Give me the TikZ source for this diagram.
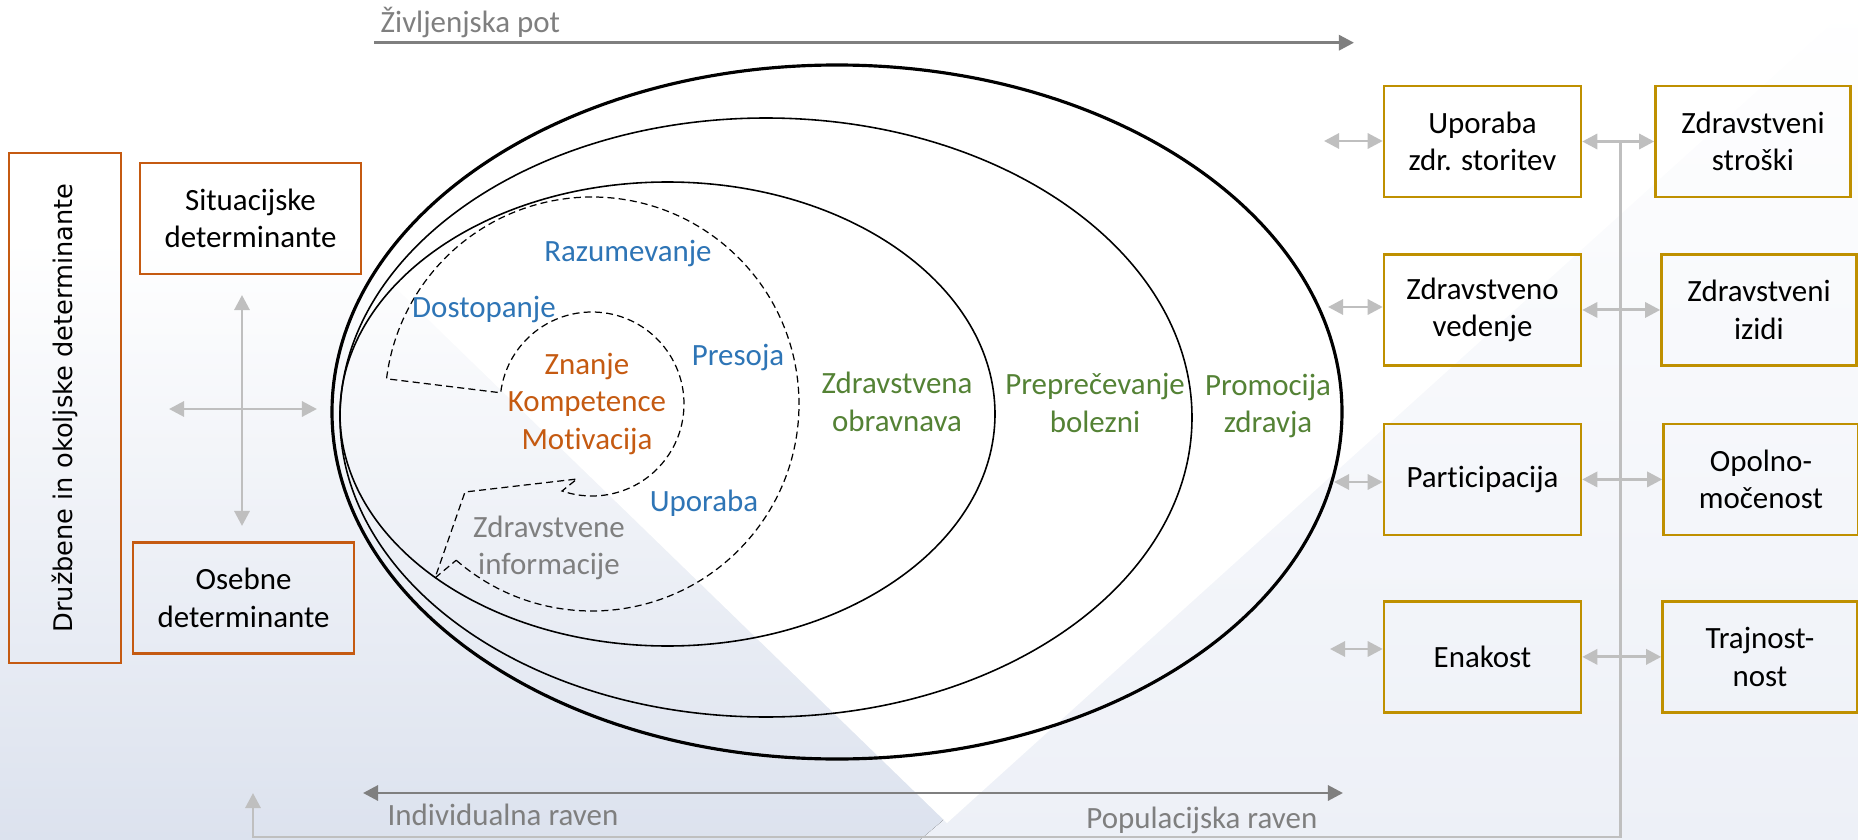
\documentclass[tikz,border=0pt]{standalone}
\usepackage{fontspec}
\setmainfont{Carlito}[Ligatures=NoCommon]
\newfontfamily\rotfont{DejaVu Sans}
\usepackage{tikz}
\usetikzlibrary{arrows.meta, positioning, shapes}

\definecolor{detorange}{RGB}{197,90,17}
\definecolor{outgold}{RGB}{191,144,0}
\definecolor{litblue}{RGB}{46,117,182}
\definecolor{prevgreen}{RGB}{84,130,53}
\definecolor{axisgray}{RGB}{127,127,127}
\definecolor{linkgray}{RGB}{191,191,191}
\definecolor{bgmid}{RGB}{240,242,248}
\definecolor{bgblue}{RGB}{220,226,238}
\definecolor{bgright}{RGB}{237,240,247}

\newcommand{\figfont}{\fontsize{8.8pt}{10.7pt}\selectfont}

\begin{document}
\begin{tikzpicture}[
  >={Triangle[length=4.3pt, width=4.3pt]},
  detbox/.style={draw=detorange, line width=0.7pt, minimum width=2.21cm, minimum height=1.11cm, inner sep=2pt, font=\figfont, align=center},
  outbox/.style={draw=outgold, line width=0.7pt, minimum width=1.97cm, minimum height=1.11cm, inner sep=2pt, font=\figfont, align=center},
  ringline/.style={black, line width=0.45pt},
  outerline/.style={black, line width=0.9pt},
  hubline/.style={black, line width=0.35pt, dash pattern=on 2pt off 1.2pt},
  litlabel/.style={text=litblue, font=\figfont, inner sep=0pt, anchor=base},
  corelabel/.style={text=detorange, font=\figfont, align=center},
  tierlabel/.style={text=prevgreen, font=\figfont, align=center},
  infolabel/.style={text=axisgray, font=\figfont, align=center},
  axislabel/.style={text=axisgray, font=\figfont, inner sep=0pt},
  axisarrow/.style={->, axisgray, line width=0.85pt},
  linkarrow/.style={<->, linkgray, line width=0.85pt},
  backline/.style={->, linkgray, line width=0.85pt}
]
\useasboundingbox (0,0) rectangle (18.58,-8.40);

% Background
\fill[white] (0,0) rectangle (18.58,-8.40);
\fill[top color=white, middle color=bgmid, bottom color=bgblue] (0,-2.4) rectangle (18.58,-8.40);
\fill[top color=white, bottom color=bgright] (9.40,-8.23) -- (18.50,0) -- (18.58,0) -- (18.58,-8.40) -- (9.20,-8.40) -- cycle;
\fill[white] (0.99,0) -- (9.47,-8.23) -- (18.58,0) -- cycle;

% Life course and levels
\coordinate (lifeS) at (3.74,-0.427);
\coordinate (lifeE) at (13.54,-0.427);
\draw[axisarrow] (lifeS) -- (lifeE);
\node[axislabel, anchor=base west] (lifelbl) at (3.80,-0.33) {Življenjska pot};

\coordinate (levelW) at (3.63,-7.93);
\coordinate (levelE) at (13.43,-7.93);
\draw[axisarrow, <->] (levelW) -- (levelE);
\node[axislabel, anchor=base west] (indiv) at (3.87,-8.25) {Individualna raven};
\node[axislabel, anchor=base east] (popul) at (13.18,-8.28) {Populacijska raven};

% Rings
\draw[outerline] (8.37,-4.12) ellipse [x radius=5.05, y radius=3.47];
\draw[ringline]  (7.66,-4.175) ellipse [x radius=4.26, y radius=2.995];
\draw[ringline]  (6.675,-4.14) ellipse [x radius=3.275, y radius=2.32];

% Health literacy spiral
\coordinate (hub) at (5.92,-4.04);
\draw[hubline] ([shift={(-131:2.07)}]hub) arc[start angle=-131, end angle=173, radius=2.07]
  -- ([shift={(173:0.92)}]hub) arc[start angle=173, end angle=-109, radius=0.92]
  -- (5.77,-4.79) -- (4.65,-4.92) -- (4.35,-5.78) -- cycle;

\node[litlabel] (access)  at (4.84,-3.17) {Dostopanje};
\node[litlabel] (underst) at (6.28,-2.62) {Razumevanje};
\node[litlabel] (judge)   at (7.38,-3.65) {Presoja};
\node[litlabel] (apply)   at (7.04,-5.11) {Uporaba};
\node[corelabel] (core)   at (5.87,-4.04) {Znanje\\Kompetence\\Motivacija};
\node[infolabel] (info)   at (5.49,-5.48) {Zdravstvene\\informacije};

\node[tierlabel] (care)  at (8.97,-4.02)  {Zdravstvena\\obravnava};
\node[tierlabel] (prev)  at (10.95,-4.03) {Preprečevanje\\bolezni};
\node[tierlabel] (promo) at (12.68,-4.06) {Promocija\\zdravja};

% Determinants
\node[detbox, rotate=90, minimum width=5.10cm, minimum height=1.12cm,
      font={\rotfont\fontsize{7.3pt}{9pt}\selectfont}] (social) at (0.65,-4.08) {Družbene in okoljske determinante};
\node[detbox] (situ) at (2.505,-2.185) {Situacijske\\determinante};
\node[detbox] (pers) at (2.435,-5.98) {Osebne\\determinante};

\coordinate (crossN) at (2.42,-2.95);
\coordinate (crossS) at (2.42,-5.26);
\coordinate (crossW) at (1.69,-4.09);
\coordinate (crossE) at (3.17,-4.09);
\draw[linkarrow] (crossN) -- (crossS);
\draw[linkarrow] (crossW) -- (crossE);

% Outcomes
\node[outbox] (use)    at (14.825,-1.415) {Uporaba\\zdr. storitev};
\node[outbox] (behav)  [below=0.55cm of use]   {Zdravstveno\\vedenje};
\node[outbox] (part)   [below=0.56cm of behav] {Participacija};
\node[outbox] (equity) [below=0.64cm of part]  {Enakost};

\node[outbox, minimum width=1.95cm] (cost)  [right=0.72cm of use]    {Zdravstveni\\stroški};
\node[outbox, minimum width=1.95cm] (outc)  [right=0.78cm of behav]  {Zdravstveni\\izidi};
\node[outbox, minimum width=1.95cm] (empow) [right=0.80cm of part]   {Opolno-\\močenost};
\node[outbox, minimum width=1.95cm] (sust)  [right=0.79cm of equity] {Trajnost-\\nost};

\coordinate (useL)   at (13.24,-1.41);
\coordinate (behavL) at (13.28,-3.07);
\coordinate (partL)  at (13.34,-4.82);
\coordinate (equL)   at (13.30,-6.49);
\draw[linkarrow] (useL) -- (useL -| use.west);
\draw[linkarrow] (behavL) -- (behavL -| behav.west);
\draw[linkarrow] (partL) -- (partL -| part.west);
\draw[linkarrow] (equL) -- (equL -| equity.west);

\draw[linkarrow] (use) -- (cost);
\draw[linkarrow] (behav) -- (outc);
\draw[linkarrow] (part) -- (empow);
\draw[linkarrow] (equity) -- (sust);

% Feedback to determinants
\coordinate (backtop) at (16.20,-1.40);
\coordinate (backbot) at (16.20,-8.37);
\coordinate (backtip) at (2.53,-7.93);
\draw[backline] (backtop) -- (backbot) -| (backtip);
\end{tikzpicture}
\end{document}
